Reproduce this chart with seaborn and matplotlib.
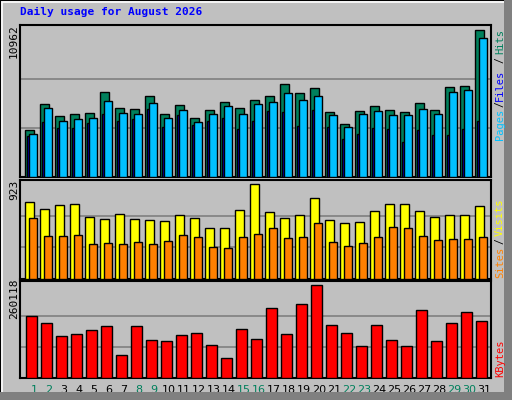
import numpy as np
import pandas as pd
import seaborn as sns
import matplotlib
matplotlib.use("Agg")
import matplotlib.pyplot as plt
from matplotlib.patches import Rectangle

days = list(range(1, 32))
day_labels = [str(d) for d in days]
weekend_days = [1, 2, 8, 9, 15, 16, 22, 23, 29, 30]

hits = [3522, 5456, 4563, 4712, 4786, 6349, 5158, 5084, 6051, 4712, 5382, 4414, 5010, 5605, 5158, 5754,
        6051, 6944, 6274, 6646, 4861, 3968, 4935, 5307, 5010, 4861, 5530, 5010, 6721, 6795, 10962]
files = [3224, 5158, 4191, 4340, 4414, 5679, 4786, 4712, 5530, 4414, 5010, 4117, 4712, 5307, 4712, 5456,
         5605, 6274, 5754, 6051, 4638, 3745, 4712, 4935, 4638, 4638, 5084, 4712, 6349, 6498, 10366]
pages = [3075, 4117, 3670, 3670, 4042, 4712, 4191, 4340, 5084, 3745, 4638, 3894, 4191, 4414, 3596, 4191,
         4935, 4861, 3819, 5010, 3745, 2852, 3224, 3670, 3596, 2629, 3522, 3150, 3150, 3596, 4191]
visits = [742, 682, 722, 732, 602, 582, 632, 582, 572, 562, 622, 592, 492, 492, 672, 923,
          652, 592, 622, 789, 572, 542, 552, 662, 732, 732, 662, 602, 622, 622, 712]
sites = [592, 421, 421, 431, 341, 351, 341, 361, 341, 371, 431, 411, 311, 301, 411, 441,
         491, 401, 411, 542, 361, 321, 351, 411, 501, 491, 421, 381, 391, 391, 411]
kbytes = [172000, 152000, 118000, 124000, 135000, 146000, 63000, 146000, 106000, 103000, 120000,
          126000, 92000, 55000, 138000, 109000, 195000, 124000, 207000, 260118, 149000, 126000,
          89000, 149000, 106000, 89000, 190000, 103000, 152000, 183000, 158000]

sns.set_style("white")
plt.rcParams['font.family'] = ['DejaVu Sans Mono', 'DejaVu Sans']

BG = "#C0C0C0"
fig = plt.figure(figsize=(5.12, 4.0), dpi=100, facecolor=BG)

# 3D border
fig.patches.append(Rectangle((0, 0), 1, 1, transform=fig.transFigure, fill=False, edgecolor="black", lw=1.5))
fig.patches.append(Rectangle((2/512, 2/400), 1, 396/400, transform=fig.transFigure, fill=False, edgecolor="white", lw=1.2))
fig.patches.append(Rectangle((504/512, 0), 8/512, 1, transform=fig.transFigure, color="#808080", lw=0))
fig.patches.append(Rectangle((0, 0), 1, 8/400, transform=fig.transFigure, color="#808080", lw=0))

def px(y0, y1):
    return [20/512, 1 - y1/400, 471/512, (y1 - y0)/400]

ax1 = fig.add_axes(px(25, 177))
ax2 = fig.add_axes(px(180, 279))
ax3 = fig.add_axes(px(281, 378))

x0 = np.array(days) - 1

def bars(ax, xs, vals, w, color):
    df = pd.DataFrame({"x": xs, "v": vals})
    sns.barplot(data=df, x="x", y="v", native_scale=True, width=w, color=color,
                saturation=1, edgecolor="black", linewidth=1.0, ax=ax, zorder=3)

# top panel
bars(ax1, x0 + 0.30, hits, 0.60, "#00805C")
bars(ax1, x0 + 0.21, pages, 0.16, "#0000FF")
bars(ax1, x0 + 0.54, files, 0.50, "#00C0FF")
# middle
bars(ax2, x0 + 0.29, visits, 0.58, "#FFFF00")
bars(ax2, x0 + 0.54, sites, 0.50, "#FF8000")
# bottom
bars(ax3, x0 + 0.43, kbytes, 0.71, "#FF0000")

for ax, mx, ratio in [(ax1, max(hits), 1.034), (ax2, max(visits), 1.04), (ax3, max(kbytes), 1.04)]:
    ax.set_facecolor(BG)
    ax.set_xlim(-0.333, 31.07)
    ax.set_ylim(0, mx * ratio)
    for g in (mx / 3, 2 * mx / 3):
        ax.axhline(g, color="#808080", lw=1.2, zorder=1)
    ax.set_xticks([])
    ax.set_yticks([])
    ax.set_xlabel("")
    ax.set_ylabel("")
    for s in ax.spines.values():
        s.set_color("black")
        s.set_linewidth(1.5)

for i, d in enumerate(days):
    c = "#00805C" if d in weekend_days else "black"
    ax3.text(x0[i] + 0.6, -0.07, day_labels[i], transform=ax3.get_xaxis_transform(),
             ha="center", va="top", fontsize=8, color=c, family=['DejaVu Sans'])

fig.text(20/512, 1 - 12/400, "Daily usage for August 2026", color="#0000FF", fontsize=8,
         fontweight="bold", va="center", ha="left")

def ftext(x, y, s, color, fs=8):
    fig.text(x/512, 1 - y/400, s, rotation=90, ha="center", va="center", fontsize=fs, color=color)

ftext(14, 41, str(max(hits)), "black")
ftext(14, 190, str(max(visits)), "black")
ftext(14, 299, str(max(kbytes)), "black")

ftext(500, 124, "Pages", "#00C0FF", 7.5)
ftext(500, 104, "/", "black", 7)
ftext(500, 85, "Files", "#0000FF", 7.5)
ftext(500, 60, "/", "black", 7)
ftext(500, 41, "Hits", "#00805C", 7.5)
ftext(500, 262, "Sites", "#FF8000", 7.5)
ftext(500, 241, "/", "black", 7)
ftext(500, 217, "Visits", "#FFFF00", 7.5)
ftext(500, 358, "KBytes", "#FF0000", 7.5)

fig.savefig("out.png", dpi=100, facecolor=BG)
